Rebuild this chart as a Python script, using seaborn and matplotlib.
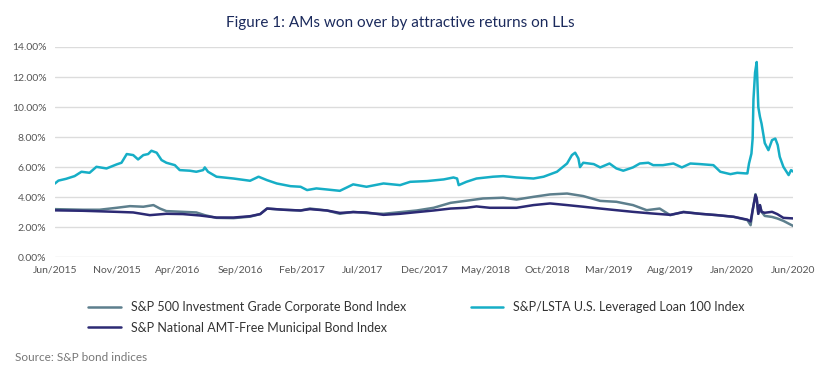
import matplotlib.pyplot as plt
import matplotlib.dates as mdates
import matplotlib.ticker as mticker
import seaborn as sns
import pandas as pd

corp_name = 'S&P 500 Investment Grade Corporate Bond Index'
muni_name = 'S&P National AMT-Free Municipal Bond Index'
loan_name = 'S&P/LSTA U.S. Leveraged Loan 100 Index'

loan_dates = [
    '2015-06-01', '2015-06-10', '2015-06-29', '2015-07-20', '2015-08-06', '2015-08-26',
    '2015-09-12', '2015-10-07', '2015-11-01', '2015-11-13', '2015-11-26', '2015-12-12',
    '2015-12-24', '2016-01-06', '2016-01-18', '2016-01-26', '2016-02-08', '2016-02-20',
    '2016-03-03', '2016-03-24', '2016-04-05', '2016-04-30', '2016-05-16', '2016-06-02',
    '2016-06-06', '2016-06-14', '2016-07-05', '2016-08-16', '2016-09-26', '2016-10-17',
    '2016-11-07', '2016-12-01', '2017-01-04', '2017-01-29', '2017-02-14', '2017-03-09',
    '2017-04-04', '2017-05-06', '2017-05-23', '2017-06-08', '2017-07-11', '2017-08-22',
    '2017-10-02', '2017-10-27', '2017-12-08', '2018-01-18', '2018-02-11', '2018-02-20',
    '2018-02-24', '2018-03-15', '2018-04-09', '2018-05-20', '2018-06-14', '2018-07-17',
    '2018-08-28', '2018-09-22', '2018-10-25', '2018-11-19', '2018-12-01', '2018-12-09',
    '2018-12-17', '2018-12-21', '2018-12-29', '2019-01-24', '2019-02-09', '2019-03-04',
    '2019-03-21', '2019-04-07', '2019-05-01', '2019-05-18', '2019-06-08', '2019-06-20',
    '2019-07-14', '2019-08-09', '2019-08-30', '2019-09-20', '2019-10-14', '2019-11-16',
    '2019-12-03', '2019-12-28', '2020-01-14', '2020-02-04', '2020-02-08', '2020-02-12',
    '2020-02-18', '2020-02-21', '2020-02-23', '2020-02-27', '2020-03-02', '2020-03-06',
    '2020-03-10', '2020-03-14', '2020-03-22', '2020-03-31', '2020-04-09', '2020-04-17',
    '2020-04-23', '2020-04-28', '2020-05-07', '2020-05-20', '2020-05-26', '2020-06-01',
]
loan_yield = [
    4.90, 5.10, 5.22, 5.40, 5.69, 5.62,
    6.02, 5.91, 6.18, 6.29, 6.87, 6.80,
    6.51, 6.80, 6.87, 7.09, 6.96, 6.47,
    6.29, 6.13, 5.80, 5.76, 5.69, 5.80,
    5.98, 5.69, 5.36, 5.24, 5.09, 5.36,
    5.13, 4.91, 4.73, 4.69, 4.47, 4.58,
    4.51, 4.42, 4.64, 4.85, 4.69, 4.91,
    4.80, 5.02, 5.07, 5.18, 5.31, 5.24,
    4.80, 5.02, 5.24, 5.36, 5.40, 5.31,
    5.24, 5.36, 5.69, 6.24, 6.80, 6.96,
    6.58, 6.00, 6.29, 6.20, 5.98, 6.24,
    5.91, 5.76, 5.98, 6.24, 6.29, 6.13,
    6.13, 6.24, 5.98, 6.24, 6.20, 6.13,
    5.69, 5.53, 5.62, 5.58, 5.58, 6.24,
    6.90, 7.90, 10.5, 12.3, 13.0, 10.0,
    9.36, 8.90, 7.60, 7.13, 7.80, 7.90,
    7.47, 6.69, 6.02, 5.47, 5.80, 5.69,
]

corp_dates = [
    '2015-06-01', '2015-08-10', '2015-09-20', '2015-11-01', '2015-12-04', '2016-01-06',
    '2016-01-31', '2016-02-16', '2016-03-03', '2016-04-13', '2016-05-16', '2016-06-06',
    '2016-07-05', '2016-08-16', '2016-09-26', '2016-10-21', '2016-11-07', '2016-12-18',
    '2017-01-29', '2017-02-21', '2017-04-04', '2017-05-06', '2017-06-08', '2017-07-20',
    '2017-08-22', '2017-11-12', '2017-12-24', '2018-02-04', '2018-03-15', '2018-04-25',
    '2018-06-14', '2018-07-17', '2018-08-28', '2018-10-08', '2018-11-19', '2018-12-29',
    '2019-02-09', '2019-03-21', '2019-05-01', '2019-06-04', '2019-07-06', '2019-08-01',
    '2019-09-03', '2019-10-14', '2019-11-25', '2020-01-05', '2020-02-08', '2020-02-16',
    '2020-02-21', '2020-02-28', '2020-03-02', '2020-03-06', '2020-03-10', '2020-03-14',
    '2020-03-22', '2020-04-09', '2020-04-22', '2020-05-07', '2020-06-01',
]
corp_yield = [
    3.20, 3.16, 3.16, 3.29, 3.40, 3.36,
    3.47, 3.24, 3.07, 3.02, 2.98, 2.80,
    2.62, 2.60, 2.70, 2.87, 3.24, 3.16,
    3.11, 3.24, 3.11, 2.89, 3.02, 2.92,
    2.89, 3.11, 3.29, 3.62, 3.76, 3.91,
    3.96, 3.84, 4.02, 4.18, 4.24, 4.07,
    3.75, 3.69, 3.47, 3.13, 3.24, 2.80,
    3.02, 2.89, 2.80, 2.69, 2.47, 2.13,
    3.13, 4.20, 3.91, 2.89, 3.47, 3.02,
    2.75, 2.68, 2.58, 2.42, 2.07,
]

muni_dates = [
    '2015-06-01', '2015-08-10', '2015-11-01', '2015-12-12', '2016-01-22', '2016-03-03',
    '2016-04-13', '2016-05-24', '2016-07-05', '2016-08-16', '2016-09-26', '2016-10-21',
    '2016-11-07', '2016-12-18', '2017-01-29', '2017-02-21', '2017-04-04', '2017-05-06',
    '2017-06-08', '2017-07-11', '2017-08-22', '2017-10-02', '2017-11-12', '2017-12-24',
    '2018-02-04', '2018-03-15', '2018-04-09', '2018-05-12', '2018-06-14', '2018-07-17',
    '2018-08-28', '2018-10-08', '2018-11-19', '2018-12-29', '2019-02-09', '2019-03-21',
    '2019-05-01', '2019-06-13', '2019-08-01', '2019-09-03', '2019-10-14', '2019-11-25',
    '2020-01-05', '2020-02-08', '2020-02-16', '2020-02-21', '2020-02-28', '2020-03-02',
    '2020-03-06', '2020-03-10', '2020-03-14', '2020-03-22', '2020-04-09', '2020-04-22',
    '2020-05-07', '2020-06-01',
]
muni_yield = [
    3.12, 3.09, 3.02, 2.98, 2.80, 2.89,
    2.87, 2.78, 2.64, 2.64, 2.73, 2.87,
    3.24, 3.16, 3.11, 3.20, 3.11, 2.95,
    3.00, 2.98, 2.82, 2.89, 3.00, 3.11,
    3.24, 3.29, 3.38, 3.29, 3.29, 3.29,
    3.47, 3.58, 3.47, 3.36, 3.24, 3.13,
    3.02, 2.92, 2.82, 3.00, 2.89, 2.80,
    2.69, 2.50, 2.38, 3.13, 4.13, 3.91,
    2.89, 3.47, 3.02, 2.96, 3.02, 2.87,
    2.62, 2.58,
]

series_order = [corp_name, muni_name, loan_name]
colors = {corp_name: '#5d7f8d', muni_name: '#2c2a74', loan_name: '#16aec6'}


def build_frame():
    parts = []
    for name, dates, vals in [(corp_name, corp_dates, corp_yield),
                              (muni_name, muni_dates, muni_yield),
                              (loan_name, loan_dates, loan_yield)]:
        parts.append(pd.DataFrame({'date': pd.to_datetime(dates), 'yield': vals, 'index': name}))
    return pd.concat(parts, ignore_index=True)


def plot_yields():
    sns.set_theme(style="white")
    plt.rcParams['font.family'] = ['Lato', 'DejaVu Sans']

    df = build_frame()
    fig = plt.figure(figsize=(8.3, 3.76), dpi=100)
    ax = fig.add_axes([0.066, 0.316, 0.890, 0.559])

    sns.lineplot(data=df, x='date', y='yield', hue='index', hue_order=series_order,
                 palette=colors, linewidth=1.8, estimator=None, ax=ax)

    ax.set_xlim(pd.Timestamp('2015-06-01'), pd.Timestamp('2020-06-01'))
    ax.set_ylim(0, 14)
    ax.set_yticks(range(0, 15, 2))
    ax.yaxis.set_major_formatter(mticker.FuncFormatter(lambda v, _: f'{v:.2f}%'))
    ax.set_xticks(pd.date_range('2015-06-01', '2020-06-01', freq='5MS'))
    ax.xaxis.set_major_formatter(mdates.DateFormatter('%b/%Y'))
    ax.tick_params(axis='both', labelsize=7.5, colors='#555555', length=0, pad=6)
    ax.grid(axis='y', color='#dcdcdc', linewidth=1)
    ax.set_axisbelow(True)
    sns.despine(ax=ax, left=True, bottom=True)
    ax.set_xlabel('')
    ax.set_ylabel('')

    handles, labels = ax.get_legend_handles_labels()
    ax.legend(handles, labels, loc='upper left', bbox_to_anchor=(0.03, -0.155), ncol=2,
              frameon=False, fontsize=9, handlelength=2.6, columnspacing=5.2,
              labelspacing=0.7, labelcolor='#333333')

    fig.text(0.482, 0.938, 'Figure 1: AMs won over by attractive returns on LLs',
             ha='center', va='center', fontsize=11, color='#1b2a5c')
    fig.text(0.018, 0.048, 'Source: S&P bond indices', ha='left', va='center',
             fontsize=8.5, color='#777777')

    fig.savefig('out.png', dpi=100)
    print("Chart saved as 'out.png'")


if __name__ == "__main__":
    plot_yields()
